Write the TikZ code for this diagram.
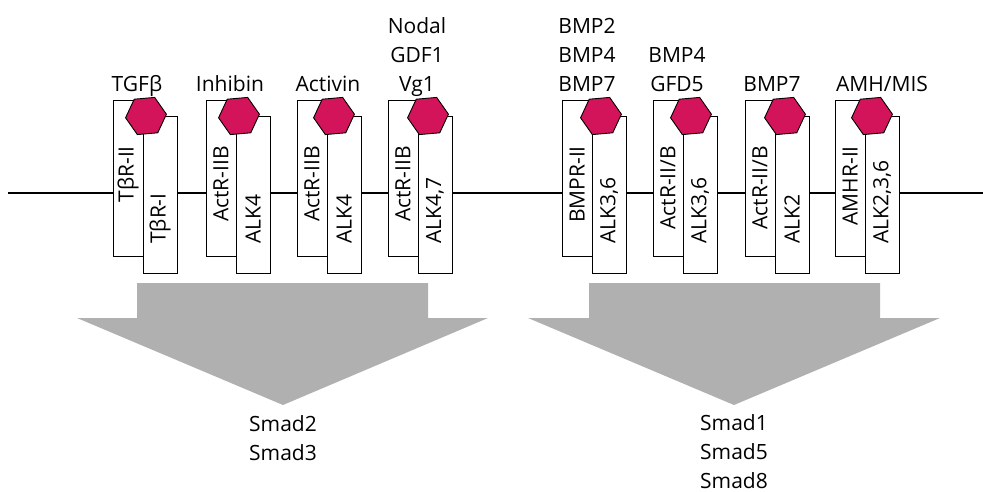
\documentclass[tikz,border=0pt]{standalone}
\usepackage{fontspec}
\setmainfont{Open Sans}
\usepackage{tikz}
\usetikzlibrary{shapes}
\definecolor{ligandred}{RGB}{212,20,90}
\definecolor{smadgray}{RGB}{176,176,176}
\tikzstyle{membrane} = [line width=1.4pt, black]
\tikzstyle{backbox} = [rectangle, draw=black, fill=white, line width=1.3pt,
inner sep=0pt, minimum width=40pt, minimum height=156pt, anchor=north west]
\tikzstyle{frontbox} = [rectangle, draw=black, fill=white, line width=1.3pt,
inner sep=0pt, minimum width=34pt, minimum height=157pt, anchor=north west]
\tikzstyle{ligand} = [regular polygon, regular polygon sides=6, fill=ligandred,
draw=black, line width=0.9pt, minimum size=41pt, inner sep=0pt, rotate=5]
\tikzstyle{rlabel} = [rotate=90, inner sep=0pt, font=\fontsize{21}{29}\selectfont]
\tikzstyle{caption} = [inner sep=0pt, align=center, text depth=0pt,
font=\fontsize{21}{29}\selectfont]
\newcommand{\receptor}[5]{ %
  % #1 name, #2 left edge, #3 ligand offset,
  % #4 type II label, #5 type I label
  \node[backbox] (#1b) at (#2,100) {} ;
  \node[frontbox] (#1f) at (#2+30,116) {} ;
  \node[ligand] (#1l) at (#2+#3,116) {} ;
  \node[rlabel, anchor=east] (#1t2) at (#2+15,146) {#4} ;
  \node[rlabel, anchor=west] (#1t1) at (#2+47,244) {#5} ;
}

\begin{document}
\begin{tikzpicture}[x=1pt, y=-1pt]
  \useasboundingbox (0,0) rectangle (983,492);
  \coordinate (mL) at (8,193) ;
  \coordinate (mR) at (983,193) ;
  \draw[membrane] (mL) -- (mR) ;

  \receptor{tgf}{113}{33}{TβR-II}{TβR-I}
  \receptor{inh}{206}{33}{ActR-IIB}{ALK4}
  \receptor{act}{297}{37}{ActR-IIB}{ALK4}
  \receptor{nod}{388}{40}{ActR-IIB}{ALK4,7}
  \receptor{bmpa}{562}{39}{BMPR-II}{ALK3,6}
  \receptor{bmpb}{653}{38}{ActR-II/B}{ALK3,6}
  \receptor{bmpc}{745}{40}{ActR-II/B}{ALK2}
  \receptor{amh}{835}{37}{AMHR-II}{ALK2,3,6}

  \node[caption, anchor=south] (tgfn) at (137,92) {TGFβ} ;
  \node[caption, anchor=south] (inhn) at (230,92) {Inhibin} ;
  \node[caption, anchor=south] (actn) at (328,92) {Activin} ;
  \node[caption, anchor=south] (nodn) at (417,92) {Nodal\\GDF1\\Vg1} ;
  \node[caption, anchor=south] (bmpan) at (587,92) {BMP2\\BMP4\\BMP7} ;
  \node[caption, anchor=south] (bmpbn) at (677,92) {BMP4\\GFD5} ;
  \node[caption, anchor=south] (bmpcn) at (772,92) {BMP7} ;
  \node[caption, anchor=south] (amhn) at (882,92) {AMH/MIS} ;

  % signalling arrows
  \fill[smadgray] (137,283) -- (428,283) -- (428,318) -- (488,318) -- (283,405)
    -- (77,318) -- (137,318) -- cycle ;
  \fill[smadgray] (589,283) -- (880,283) -- (880,318) -- (940,318) -- (734,405)
    -- (528,318) -- (589,318) -- cycle ;

  \node[caption, anchor=south] (smadl) at (283,461) {Smad2\\Smad3} ;
  \node[caption, anchor=south] (smadr) at (734,489) {Smad1\\Smad5\\Smad8} ;
\end{tikzpicture}
\end{document}
